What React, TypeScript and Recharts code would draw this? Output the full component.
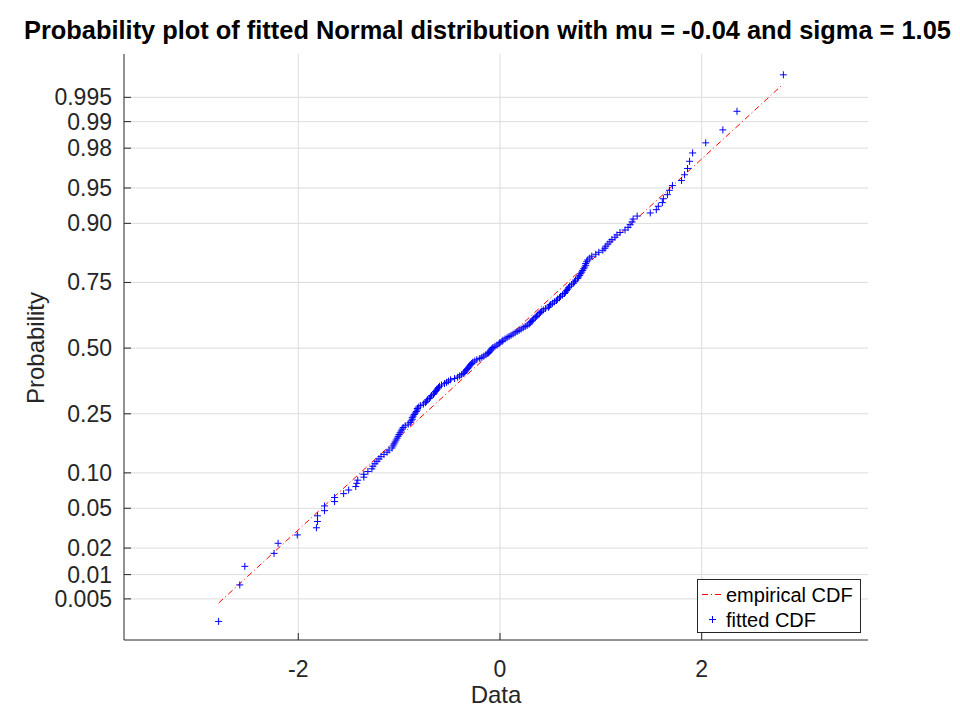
import React from 'react'
import {
  CartesianGrid,
  ComposedChart,
  Line,
  Scatter,
  XAxis,
  YAxis,
} from 'recharts'

// fitted normal parameters (from the title)
const MU = -0.04
const SIGMA = 1.05

const PROB_TICKS = [0.005, 0.01, 0.02, 0.05, 0.1, 0.25, 0.5, 0.75, 0.9, 0.95, 0.98, 0.99, 0.995]
const PROB_LABELS = ['0.005', '0.01', '0.02', '0.05', '0.10', '0.25', '0.50', '0.75', '0.90', '0.95', '0.98', '0.99', '0.995']
const X_TICKS = [-2, 0, 2]
const X_DOMAIN: [number, number] = [-3.728, 3.649]
const Z_DOMAIN: [number, number] = [-2.998, 3.021]

// sorted sample
const SAMPLE = [
  -2.79, -2.58, -2.53, -2.24, -2.2, -2.01, -1.82, -1.81, -1.81, -1.74,
  -1.74, -1.64, -1.64, -1.55, -1.5, -1.43, -1.42, -1.41, -1.35, -1.35,
  -1.31, -1.27, -1.26, -1.24, -1.22, -1.2, -1.18, -1.15, -1.12, -1.1,
  -1.07, -1.06, -1.05, -1.04, -1.03, -1.02, -1.01, -1.0, -0.99, -0.98,
  -0.97, -0.96, -0.94, -0.91, -0.89, -0.88, -0.87, -0.87, -0.86, -0.85,
  -0.84, -0.83, -0.82, -0.82, -0.81, -0.79, -0.76, -0.74, -0.73, -0.72,
  -0.7, -0.69, -0.68, -0.66, -0.65, -0.64, -0.63, -0.62, -0.61, -0.6,
  -0.58, -0.55, -0.53, -0.51, -0.49, -0.45, -0.42, -0.4, -0.38, -0.36,
  -0.35, -0.34, -0.33, -0.32, -0.31, -0.3, -0.29, -0.28, -0.27, -0.25,
  -0.23, -0.2, -0.18, -0.16, -0.14, -0.12, -0.11, -0.1, -0.09, -0.08,
  -0.07, -0.05, -0.03, -0.01, 0.0, 0.02, 0.03, 0.05, 0.07, 0.09,
  0.11, 0.13, 0.15, 0.17, 0.19, 0.21, 0.23, 0.25, 0.27, 0.29,
  0.3, 0.31, 0.32, 0.33, 0.35, 0.36, 0.37, 0.39, 0.4, 0.41,
  0.43, 0.45, 0.48, 0.49, 0.5, 0.52, 0.54, 0.56, 0.57, 0.59,
  0.6, 0.62, 0.64, 0.65, 0.66, 0.67, 0.68, 0.69, 0.71, 0.73,
  0.74, 0.75, 0.77, 0.78, 0.79, 0.8, 0.81, 0.82, 0.83, 0.84,
  0.85, 0.85, 0.86, 0.87, 0.89, 0.91, 0.95, 0.98, 1.02, 1.04,
  1.05, 1.07, 1.09, 1.11, 1.14, 1.16, 1.19, 1.24, 1.27, 1.29,
  1.31, 1.32, 1.36, 1.49, 1.55, 1.57, 1.61, 1.62, 1.66, 1.68,
  1.71, 1.8, 1.83, 1.86, 1.88, 1.91, 2.04, 2.21, 2.35, 2.81,
]

// inverse standard normal CDF (Acklam)
function probit(p: number): number {
  const a = [-39.69683028665376, 220.9460984245205, -275.9285104469687, 138.357751867269, -30.66479806614716, 2.506628277459239]
  const b = [-54.47609879822406, 161.5858368580409, -155.6989798598866, 66.80131188771972, -13.28068155288572]
  const c = [-0.007784894002430293, -0.3223964580411365, -2.400758277161838, -2.549732539343734, 4.374664141464968, 2.938163982698783]
  const d = [0.007784695709041462, 0.3224671290700398, 2.445134137142996, 3.754408661907416]
  const lo = 0.02425
  if (p < lo) {
    const q = Math.sqrt(-2 * Math.log(p))
    return (((((c[0] * q + c[1]) * q + c[2]) * q + c[3]) * q + c[4]) * q + c[5]) /
      ((((d[0] * q + d[1]) * q + d[2]) * q + d[3]) * q + 1)
  }
  if (p > 1 - lo) return -probit(1 - p)
  const q = p - 0.5
  const r = q * q
  return (((((a[0] * r + a[1]) * r + a[2]) * r + a[3]) * r + a[4]) * r + a[5]) * q /
    (((((b[0] * r + b[1]) * r + b[2]) * r + b[3]) * r + b[4]) * r + 1)
}

const n = SAMPLE.length
const points = SAMPLE.map((x, i) => ({ x, z: probit((i + 0.5) / n) }))
const xMin = Math.min(...SAMPLE)
const xMax = Math.max(...SAMPLE)
const fitLine = [xMin, xMax].map((x) => ({ x, z: (x - MU) / SIGMA }))
const yTicks = PROB_TICKS.map(probit)

const FONT = '"Liberation Sans", Arial, Helvetica, sans-serif'
const AXIS = '#262626'

function labelFor(z: number) {
  let best = 0
  yTicks.forEach((t, i) => {
    if (Math.abs(t - z) < Math.abs(yTicks[best] - z)) best = i
  })
  return PROB_LABELS[best]
}

// grid only at the ticks (no frame lines at the plot edges)
function gridRows({ offset }: any) {
  const [lo, hi] = Z_DOMAIN
  return yTicks.map((t) => offset.top + ((hi - t) / (hi - lo)) * offset.height)
}

function gridCols({ offset }: any) {
  const [lo, hi] = X_DOMAIN
  return X_TICKS.map((t) => offset.left + ((t - lo) / (hi - lo)) * offset.width)
}

function YTick(props: any) {
  const { x, y, payload } = props
  return (
    <g>
      <line x1={x} y1={y} x2={x + 7} y2={y} stroke={AXIS} />
      <text x={x - 12} y={y} textAnchor="end" dominantBaseline="central" fontSize={23} fill={AXIS} fontFamily={FONT}>
        {labelFor(payload.value)}
      </text>
    </g>
  )
}

function XTick(props: any) {
  const { x, y, payload } = props
  return (
    <g>
      <line x1={x} y1={y} x2={x} y2={y - 7} stroke={AXIS} />
      <text x={x} y={y + 29} textAnchor="middle" dominantBaseline="central" fontSize={23} fill={AXIS} fontFamily={FONT}>
        {payload.value}
      </text>
    </g>
  )
}

function Plus(props: any) {
  const { cx, cy } = props
  return (
    <path d={`M${cx - 3.5},${cy}H${cx + 3.5}M${cx},${cy - 3.5}V${cy + 3.5}`} stroke="#0000ff" strokeWidth={1} fill="none" />
  )
}

export default function App() {
  return (
    <div style={{ position: 'absolute', left: 0, top: 0, width: 960, height: 720, background: '#fff', overflow: 'hidden', fontFamily: FONT }}>
      <div style={{ position: 'absolute', left: 24, top: 15, whiteSpace: 'nowrap', fontSize: 25.4, fontWeight: 'bold', color: '#000', lineHeight: '30px' }}>
        Probability plot of fitted Normal distribution with mu = -0.04 and sigma = 1.05
      </div>
      <ComposedChart width={960} height={720} margin={{ top: 54, right: 92, bottom: 0, left: 0 }}>
        <CartesianGrid
          stroke="#dcdcdc"
          strokeWidth={1}
          horizontalCoordinatesGenerator={gridRows}
          verticalCoordinatesGenerator={gridCols}
        />
        <XAxis
          dataKey="x"
          type="number"
          domain={X_DOMAIN}
          ticks={X_TICKS}
          interval={0}
          allowDataOverflow
          height={80}
          tickSize={0}
          tickMargin={0}
          tickLine={false}
          axisLine={{ stroke: AXIS }}
          tick={<XTick />}
        />
        <YAxis
          dataKey="z"
          type="number"
          domain={Z_DOMAIN}
          ticks={yTicks}
          interval={0}
          allowDataOverflow
          width={124}
          tickSize={0}
          tickMargin={0}
          tickLine={false}
          axisLine={{ stroke: AXIS }}
          tick={<YTick />}
        />
        <Line
          data={fitLine}
          dataKey="z"
          type="linear"
          stroke="#ff0000"
          strokeWidth={1}
          strokeDasharray="6 3 1 3"
          dot={false}
          activeDot={false}
          isAnimationActive={false}
        />
        <Scatter data={points} dataKey="z" shape={<Plus />} isAnimationActive={false} />
      </ComposedChart>
      <div style={{ position: 'absolute', left: 496, top: 695, transform: 'translate(-50%, -50%)', fontSize: 24, color: AXIS, lineHeight: '26px' }}>
        Data
      </div>
      <div style={{ position: 'absolute', left: 36, top: 348, transform: 'translate(-50%, -50%) rotate(-90deg)', fontSize: 24, color: AXIS, whiteSpace: 'nowrap' }}>
        Probability
      </div>
      <div style={{ position: 'absolute', left: 697, top: 579, width: 162, height: 52, border: `1px solid ${AXIS}`, background: '#fff', fontSize: 20, color: '#000' }}>
        <svg width={24} height={52} style={{ position: 'absolute', left: 0, top: 0 }}>
          <line x1={4} y1={14.5} x2={23} y2={14.5} stroke="#ff0000" strokeWidth={1} strokeDasharray="6 3 1 3" />
          <path d="M11,39.5H18M14.5,36V43" stroke="#0000ff" strokeWidth={1} fill="none" />
        </svg>
        <div style={{ position: 'absolute', left: 28, top: 3, lineHeight: '24px' }}>empirical CDF</div>
        <div style={{ position: 'absolute', left: 28, top: 28, lineHeight: '24px' }}>fitted CDF</div>
      </div>
    </div>
  )
}
